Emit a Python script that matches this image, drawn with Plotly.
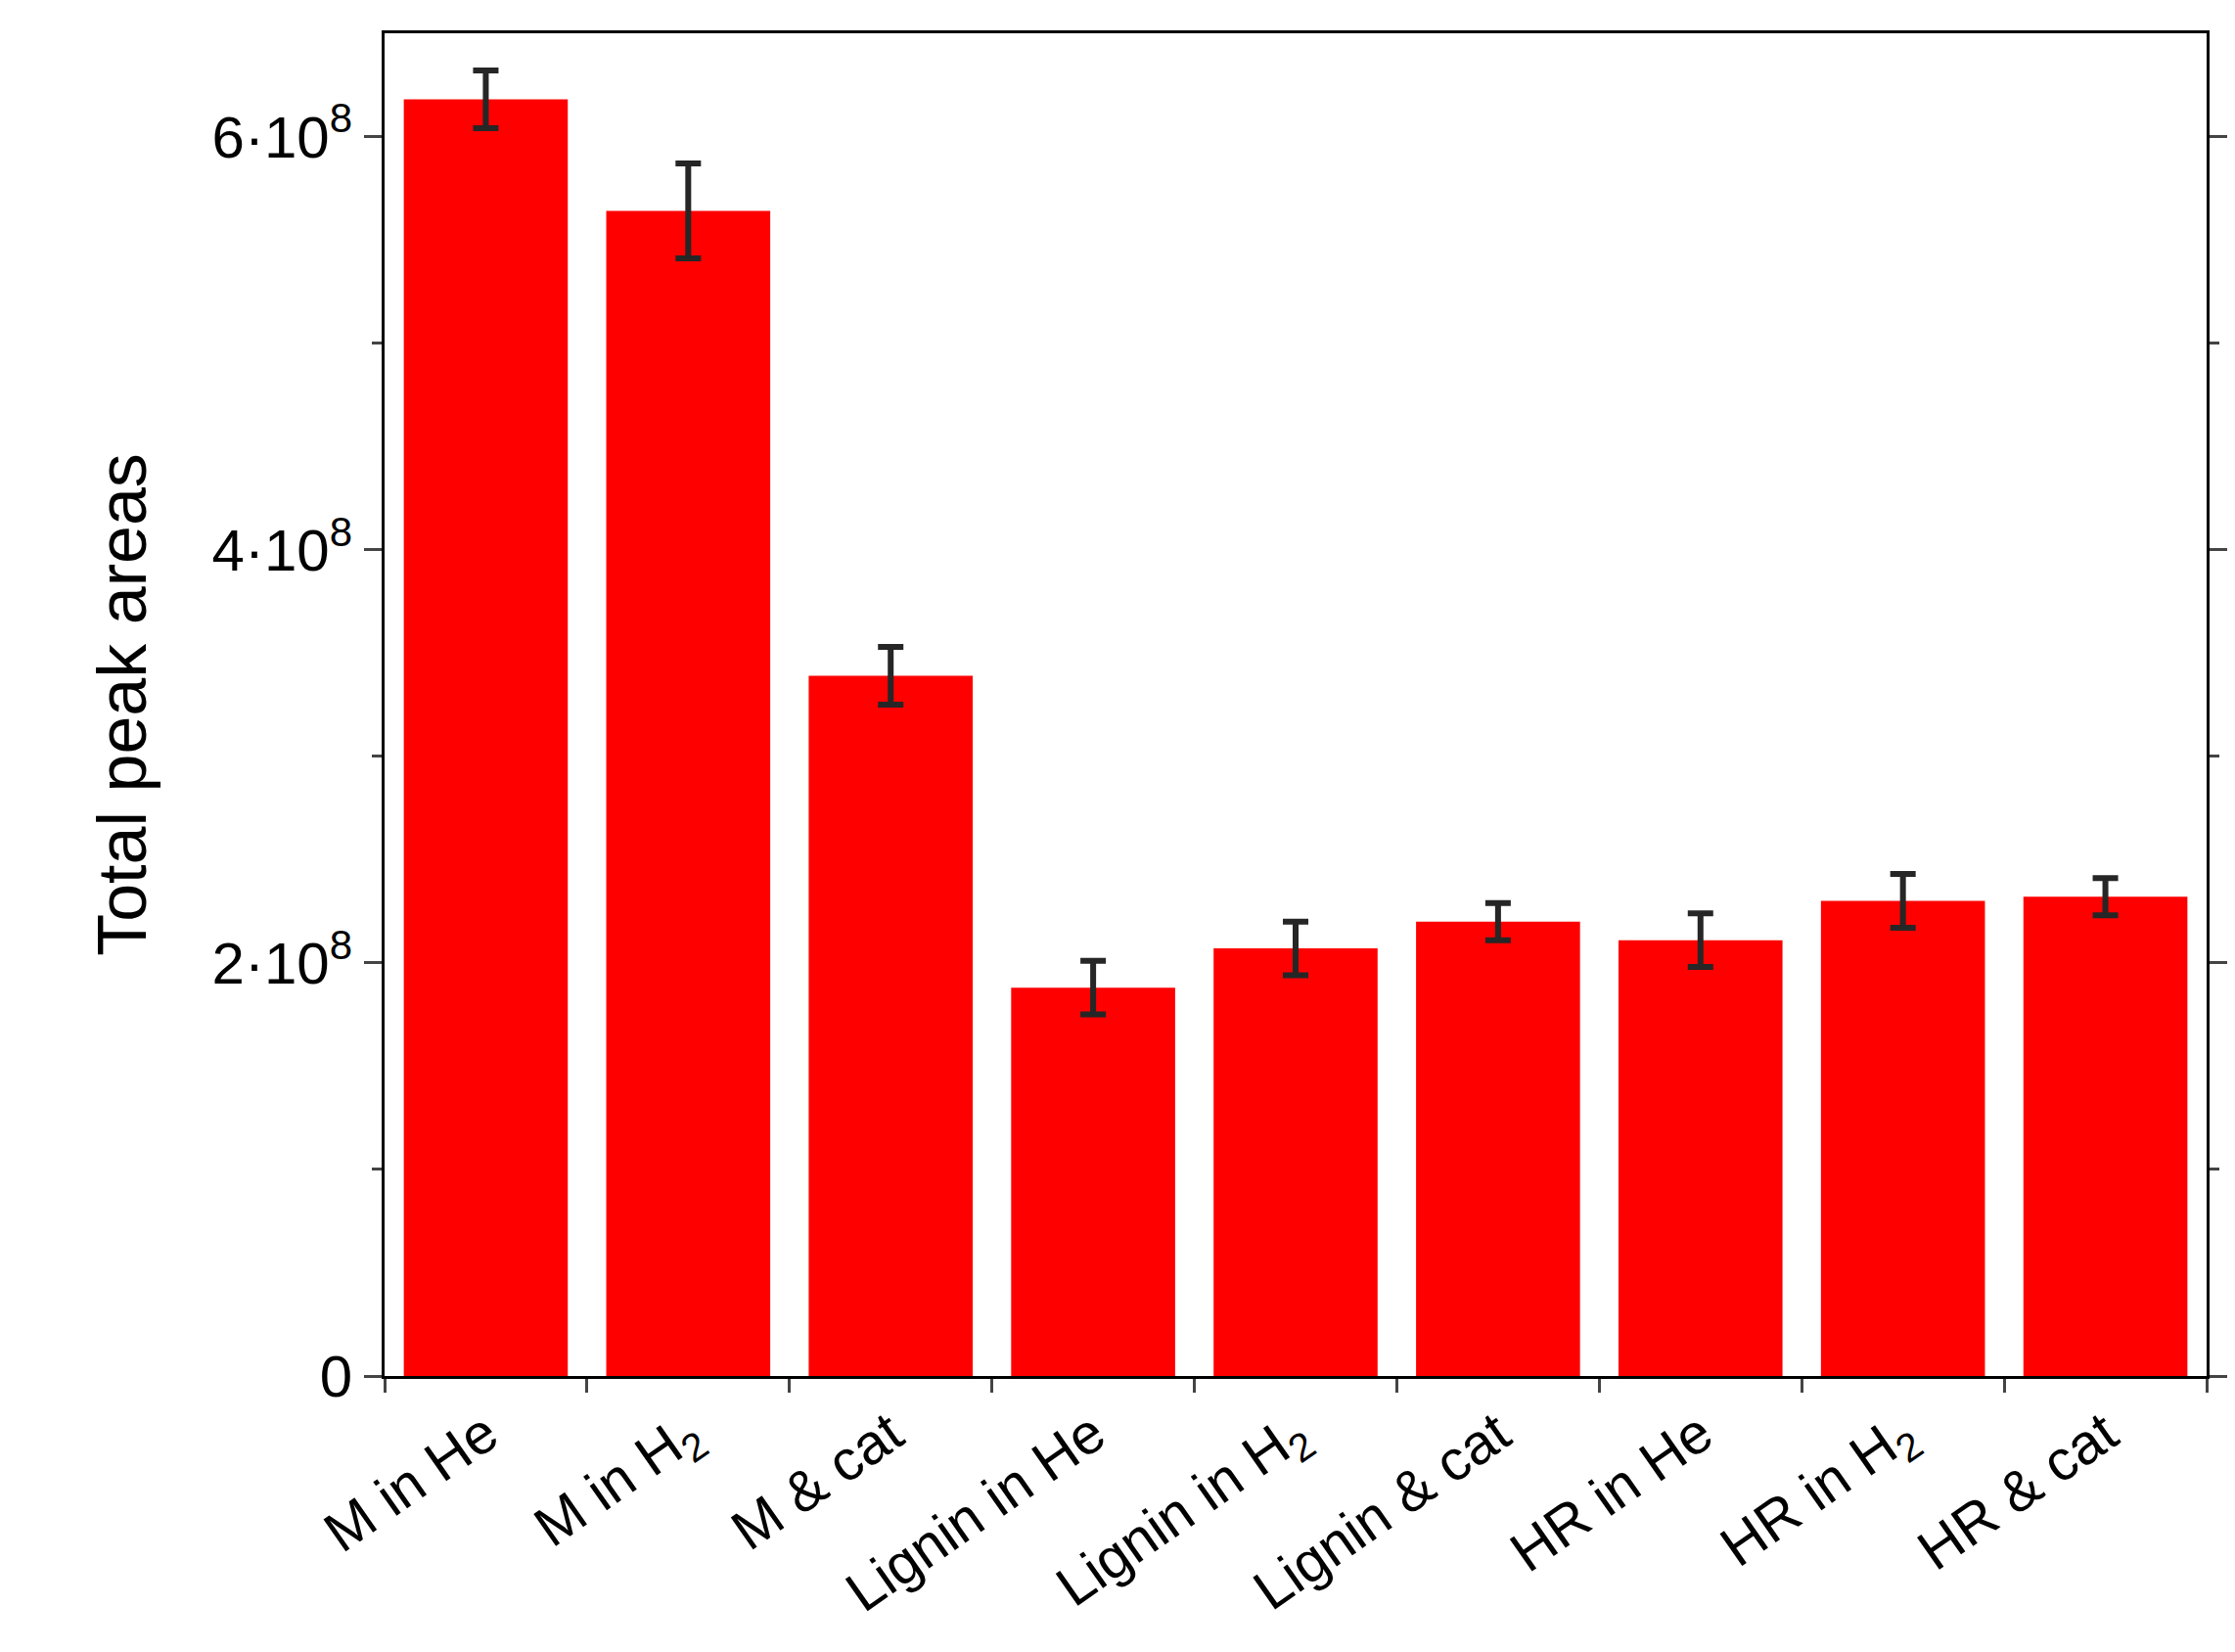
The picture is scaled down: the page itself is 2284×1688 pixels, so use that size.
import plotly.graph_objects as go

categories = ["M in He", "M in H<sub>2</sub>", "M &amp; cat", "Lignin in He", "Lignin in H<sub>2</sub>",
              "Lignin &amp; cat", "HR in He", "HR in H<sub>2</sub>", "HR &amp; cat"]
values = [6.18e8, 5.64e8, 3.39e8, 1.88e8, 2.07e8, 2.20e8, 2.11e8, 2.30e8, 2.32e8]
errors = [0.14e8, 0.23e8, 0.14e8, 0.13e8, 0.13e8, 0.09e8, 0.13e8, 0.13e8, 0.09e8]
tick_vals = [0, 2e8, 4e8, 6e8]
tick_text = ["0", "2·10<sup>8</sup>", "4·10<sup>8</sup>", "6·10<sup>8</sup>"]

fig = go.Figure(go.Bar(
    x=categories, y=values,
    marker=dict(color="#ff0000", line=dict(width=0)),
    error_y=dict(type="data", array=errors, color="#262626", thickness=6, width=13),
))

fig.update_layout(
    width=2284, height=1688,
    margin=dict(l=385, r=37, t=26, b=290),
    paper_bgcolor="white", plot_bgcolor="white",
    font=dict(family="Liberation Sans, Arial", color="black", size=58),
    bargap=0.19,
    showlegend=False,
)
fig.update_xaxes(
    showline=True, linecolor="black", linewidth=3, mirror=True,
    ticks="outside", tickson="boundaries", ticklen=14, tickwidth=3,
    tickangle=-35, tickfont=dict(size=58),
)
fig.update_yaxes(
    range=[0, 6.5e8], tickvals=tick_vals, ticktext=tick_text,
    showline=True, linecolor="black", linewidth=3, mirror="ticks",
    ticks="outside", ticklen=18, tickwidth=3, showgrid=False, zeroline=False,
    minor=dict(tickvals=[1e8, 3e8, 5e8], ticks="outside", ticklen=10, tickwidth=3),
    tickfont=dict(size=60),
    title=dict(text="Total peak areas", font=dict(size=70), standoff=45),
)

fig.write_html("out.html")
